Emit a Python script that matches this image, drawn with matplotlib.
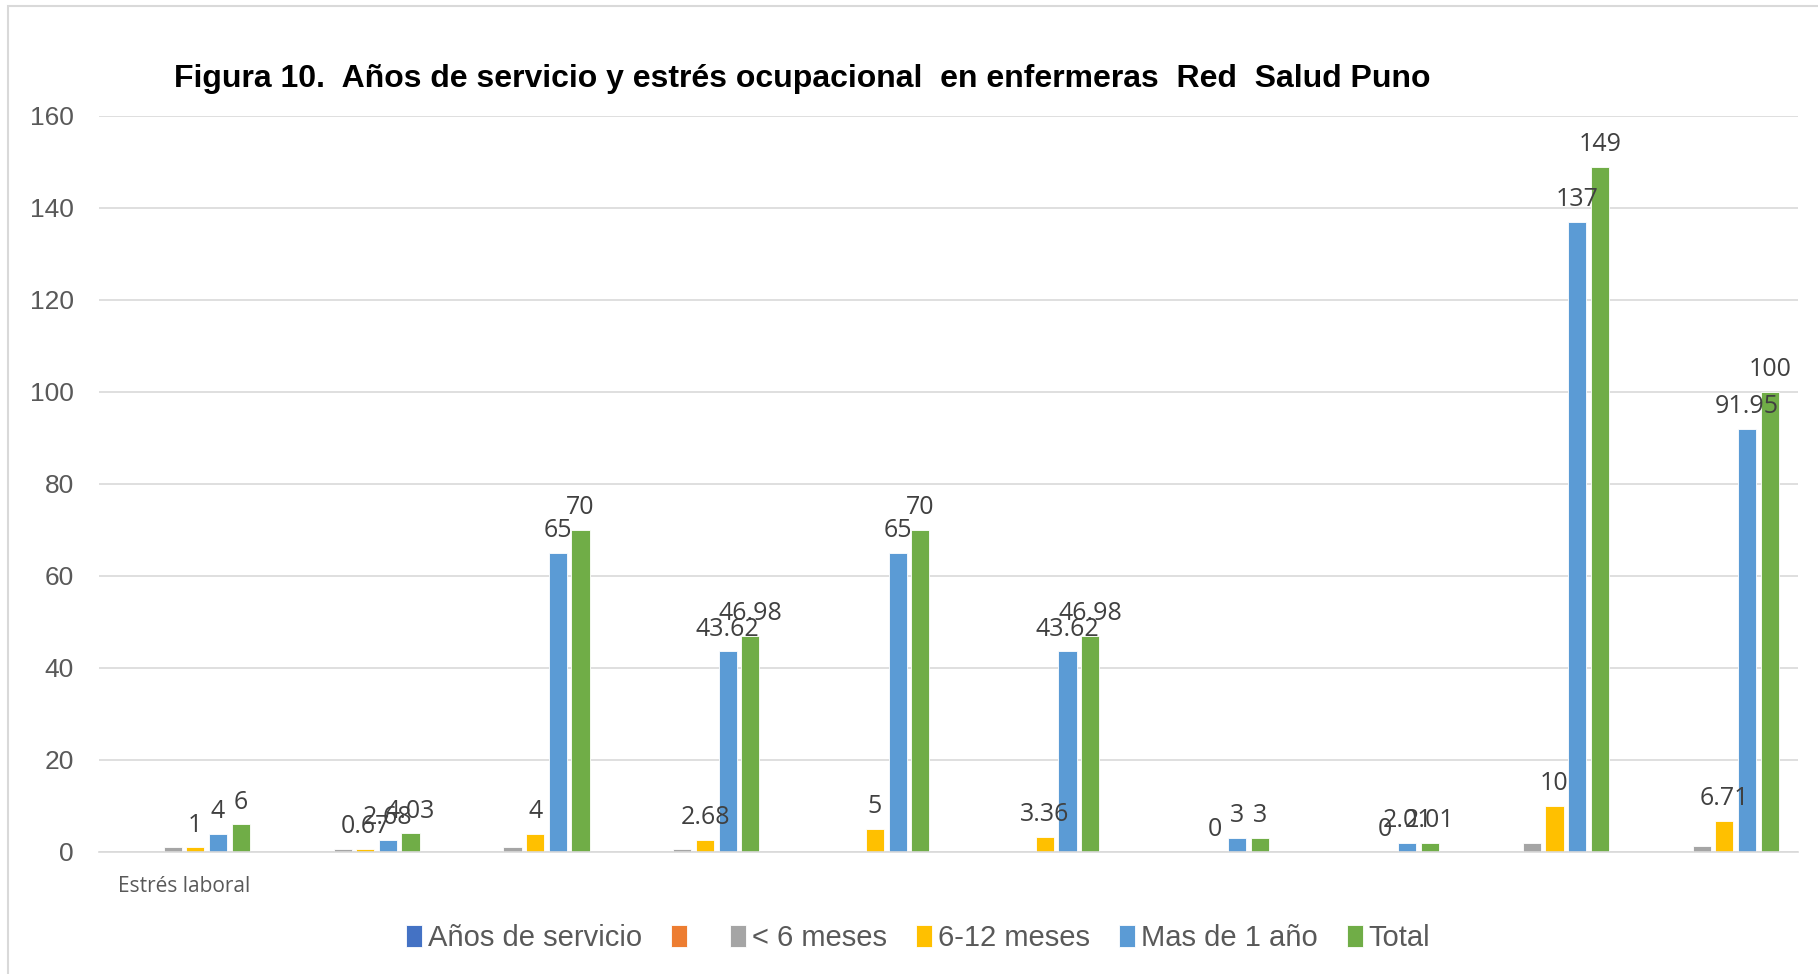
import numpy as np
import matplotlib.pyplot as plt
from matplotlib.patches import Rectangle

# === DATA ===
CATEGORIES = ["Estrés laboral", "", "", "", "", "", "", "", "", ""]
SERIES = ["Años de servicio", " ", "< 6 meses", "6-12 meses", "Mas de 1 año", "Total"]
NAN = np.nan
ANOS_SERVICIO = [NAN] * 10
SIN_NOMBRE = [NAN] * 10
MENOS_6 = [1, 0.67, 1, 0.67, NAN, NAN, NAN, NAN, 2, 1.34]
DE_6_12 = [1, 0.67, 4, 2.68, 5, 3.36, 0, 0, 10, 6.71]
MAS_1 = [4, 2.68, 65, 43.62, 65, 43.62, 3, 2.01, 137, 91.95]
TOTAL = [6, 4.03, 70, 46.98, 70, 46.98, 3, 2.01, 149, 100]
LABELLED = [False, False, False, True, True, True]

COLORS = ["#4472C4", "#ED7D31", "#A5A5A5", "#FFC000", "#5B9BD5", "#70AD47"]
TITLE = "Figura 10.  Años de servicio y estrés ocupacional  en enfermeras  Red  Salud Puno"


def fmt(v):
    return f"{v:g}"


fig = plt.figure(figsize=(18.18, 9.74), dpi=100)
ax = fig.add_axes([0.0545, 0.1253, 0.9345, 0.7557])

data = [ANOS_SERVICIO, SIN_NOMBRE, MENOS_6, DE_6_12, MAS_1, TOTAL]
x = np.arange(len(CATEGORIES))
slot = 0.8 / len(SERIES)
width = slot * 0.8
for i, (vals, name, col) in enumerate(zip(data, SERIES, COLORS)):
    pos = x - 0.4 + slot * (i + 0.5)
    vals = np.array(vals, dtype=float)
    ax.bar(pos, np.nan_to_num(vals), width, color=col, label=name,
           edgecolor="white", linewidth=0.6)
    if LABELLED[i]:
        for p, v in zip(pos, vals):
            if np.isnan(v):
                continue
            ax.annotate(fmt(v), (p, v), xytext=(0, 7), textcoords="offset points",
                        ha="center", va="bottom", fontsize=18, color="#404040",
                        family="Open Sans")

ax.set_xlim(-0.5, len(CATEGORIES) - 0.5)
ax.set_ylim(0, 160)
ax.set_yticks(np.arange(0, 161, 20))
ax.set_xticks(x)
ax.set_xticklabels(CATEGORIES, fontsize=15, color="#595959", family="Open Sans")
ax.tick_params(axis="y", length=0, labelsize=19, labelcolor="#595959", pad=18)
ax.tick_params(axis="x", length=0, pad=17)
for lab in ax.get_yticklabels():
    lab.set_family("Liberation Sans")
ax.grid(axis="y", color="#D9D9D9", linewidth=1.2)
ax.set_axisbelow(True)
for s in ["top", "right", "left"]:
    ax.spines[s].set_visible(False)
ax.spines["bottom"].set_color("#D9D9D9")
ax.spines["bottom"].set_linewidth(1.2)

fig.text(0.0957, 0.919, TITLE, fontsize=23, fontweight="bold",
         family="Liberation Sans", ha="left", va="center")

leg = fig.legend(loc="center", bbox_to_anchor=(0.505, 0.037), ncol=6, frameon=False,
                 handlelength=0.55, handleheight=0.8, handletextpad=0.2,
                 columnspacing=1.0, prop={"family": "Liberation Sans", "size": 21})
for t in leg.get_texts():
    t.set_color("#595959")

fig.patches.append(Rectangle((8 / 1818, -0.02), 1.1, 1 - 6 / 974 + 0.02,
                             transform=fig.transFigure, fill=False,
                             edgecolor="#D9D9D9", linewidth=1.5))

fig.savefig("out.png", dpi=100)
